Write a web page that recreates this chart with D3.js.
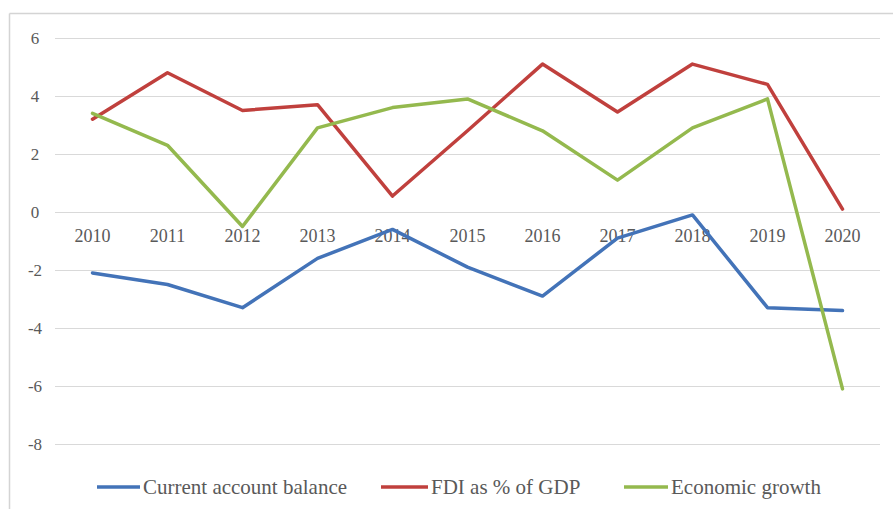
<!DOCTYPE html>
<html>
<head>
<meta charset="utf-8">
<script src="https://cdn.jsdelivr.net/npm/d3@7"></script>
<style>
  html, body { margin: 0; padding: 0; background: #fff; }
  svg { display: block; }
</style>
</head>
<body>
<svg id="chart" width="893" height="509"></svg>
<script>
// Years on the category axis
const years = ["2010","2011","2012","2013","2014","2015","2016","2017","2018","2019","2020"];

// Series values (%)
const currentAccount = [-2.1, -2.5, -3.3, -1.6, -0.6, -1.9, -2.9, -0.9, -0.1, -3.3, -3.4];
const fdiShare       = [3.2, 4.8, 3.5, 3.7, 0.55, 2.8, 5.1, 3.45, 5.1, 4.4, 0.1];
const growth         = [3.4, 2.3, -0.5, 2.9, 3.6, 3.9, 2.8, 1.1, 2.9, 3.9, -6.1];

// Value-axis ticks
const yTicks = [6, 4, 2, 0, -2, -4, -6, -8];

const seriesNames  = ["Current account balance", "FDI as % of GDP", "Economic growth"];
const seriesColors = ["#4373b8", "#c0403d", "#94b94e"];
const seriesValues = [currentAccount, fdiShare, growth];

const svg = d3.select("#chart");
const W = 893, H = 509;
const plot = { left: 55, right: 880, top: 38, bottom: 444 };
const FONT = "Liberation Serif, 'Times New Roman', serif";

// Outer frame (top and left edges visible)
svg.append("line").attr("x1", 9.5).attr("x2", W).attr("y1", 13.5).attr("y2", 13.5)
  .attr("stroke", "#d4d4d4").attr("stroke-width", 1.5);
svg.append("line").attr("x1", 9.5).attr("x2", 9.5).attr("y1", 13.5).attr("y2", H)
  .attr("stroke", "#d4d4d4").attr("stroke-width", 1.5);

const x = d3.scaleBand().domain(years).range([plot.left, plot.right]);
const y = d3.scaleLinear().domain([-8, 6]).range([plot.bottom, plot.top]);

// Horizontal gridlines + y labels via axis
const yAxis = svg.append("g")
  .attr("transform", `translate(${plot.left},0)`)
  .call(d3.axisLeft(y).tickValues(yTicks).tickSize(-(plot.right - plot.left)).tickPadding(18)
    .tickFormat(d => d < 0 ? "-" + Math.abs(d) : String(d)));
yAxis.attr("font-family", FONT);
yAxis.select(".domain").remove();
yAxis.selectAll(".tick line").attr("stroke", "#d9d9d9").attr("stroke-width", 1.2);
yAxis.selectAll(".tick text")
  .attr("fill", "#595959").style("font-family", FONT).attr("font-size", 17)
  .attr("text-anchor", "middle").attr("x", -20);

// Category labels sit just under the zero line
const xAxis = svg.append("g")
  .attr("transform", `translate(0,${y(0)})`)
  .call(d3.axisBottom(x).tickSize(0).tickPadding(17));
xAxis.attr("font-family", FONT);
xAxis.select(".domain").remove();
xAxis.selectAll(".tick text")
  .attr("fill", "#595959").style("font-family", FONT).attr("font-size", 18);

// Lines
const line = d3.line()
  .x((d, i) => x(years[i]) + x.bandwidth() / 2)
  .y(d => y(d));

seriesValues.forEach((vals, k) => {
  svg.append("path")
    .datum(vals)
    .attr("fill", "none")
    .attr("stroke", seriesColors[k])
    .attr("stroke-width", 3.5)
    .attr("stroke-linejoin", "round")
    .attr("stroke-linecap", "round")
    .attr("d", line);
});

// Legend
const legendY = 487;
const legendItems = [
  { x0: 97, x1: 140 },
  { x0: 381, x1: 428 },
  { x0: 624, x1: 668 }
];
seriesNames.forEach((name, k) => {
  const g = svg.append("g");
  g.append("line")
    .attr("x1", legendItems[k].x0).attr("x2", legendItems[k].x1)
    .attr("y1", legendY).attr("y2", legendY)
    .attr("stroke", seriesColors[k]).attr("stroke-width", 3.5);
  g.append("text")
    .attr("x", legendItems[k].x1 + 3).attr("y", legendY)
    .attr("dy", "0.35em")
    .attr("fill", "#595959")
    .style("font-family", FONT)
    .attr("font-size", 21)
    .text(name);
});
</script>
</body>
</html>
